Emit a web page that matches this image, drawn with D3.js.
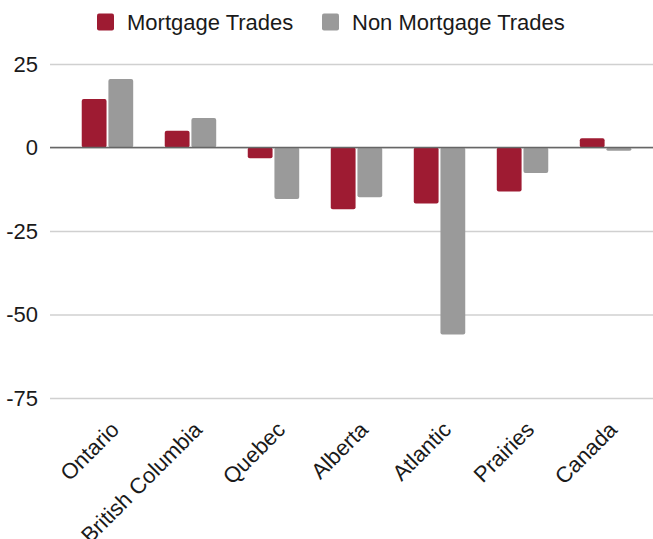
<html>
<head>
<meta charset="utf-8">
<script src="https://d3js.org/d3.v7.min.js"></script>
<style>
  body { margin: 0; background: #fff; }
  text { font-family: "Liberation Sans", Arial, sans-serif; fill: #1a1a1a; }
</style>
</head>
<body>
<div id="graph"></div>
<script>
const regions = ['Ontario', 'British Columbia', 'Quebec', 'Alberta', 'Atlantic', 'Prairies', 'Canada'];
const mortgage = [14.5, 5.0, -3.2, -18.5, -16.8, -13.2, 2.8];
const nonMortgage = [20.5, 8.8, -15.4, -14.9, -56.0, -7.6, -1.0];
const seriesNames = ['Mortgage Trades', 'Non Mortgage Trades'];
const colors = ['#9e1b32', '#9a9a9a'];
const yTicks = [25, 0, -25, -50, -75];

const w = 653, h = 539;
const svg = d3.select('#graph').append('svg').attr('width', w).attr('height', h);

const yScale = d3.scaleLinear().domain([-75, 25]).range([398, 64]);
const x0 = d3.scaleBand().domain(regions).range([56, 657]).paddingInner(0.38).paddingOuter(0.31);
const x1 = d3.scaleBand().domain([0, 1]).range([0, x0.bandwidth()]).paddingInner(0.07);

// grid + y labels
const yAxis = d3.axisLeft(yScale).tickValues(yTicks).tickFormat(d => String(d))
  .tickSize(-(w - 50)).tickPadding(12);
const gy = svg.append('g').attr('transform', 'translate(50,0)').call(yAxis);
gy.select('.domain').remove();
gy.selectAll('.tick line').attr('stroke', '#d0d0d0').attr('stroke-width', 1.3);
gy.selectAll('.tick text').attr('font-size', 22).attr('x', -12).attr('fill', '#1a1a1a');

// bars
const data = regions.map((r, i) => ({ r, v: [mortgage[i], nonMortgage[i]] }));
const groups = svg.selectAll('.grp').data(data).enter().append('g')
  .attr('transform', d => 'translate(' + x0(d.r) + ',0)');
groups.selectAll('rect').data(d => d.v.map((v, k) => ({ v, k }))).enter().append('rect')
  .attr('x', d => x1(d.k))
  .attr('width', x1.bandwidth())
  .attr('y', d => yScale(Math.max(0, d.v)))
  .attr('height', d => Math.abs(yScale(d.v) - yScale(0)))
  .attr('rx', 2)
  .attr('fill', d => colors[d.k]);

// zero line
svg.append('line').attr('x1', 50).attr('x2', w).attr('y1', yScale(0)).attr('y2', yScale(0))
  .attr('stroke', '#666').attr('stroke-width', 1.5);

// x labels
const xAxis = d3.axisBottom(x0).tickSize(0).tickPadding(0);
const gx = svg.append('g').attr('transform', 'translate(0,431)').call(xAxis);
gx.select('.domain').remove();
gx.selectAll('.tick text')
  .attr('font-size', 22).attr('fill', '#1a1a1a')
  .attr('text-anchor', 'end')
  .attr('y', 0).attr('dy', 0)
  .attr('transform', 'translate(13,0) rotate(-45)');

// legend
const legend = svg.append('g').attr('transform', 'translate(0,22)');
const legX = [97, 322];
seriesNames.forEach((s, i) => {
  legend.append('rect').attr('x', legX[i]).attr('y', -8.5).attr('width', 17).attr('height', 17)
    .attr('rx', 2).attr('fill', colors[i]);
  legend.append('text').attr('x', legX[i] + 30).attr('y', 8)
    .attr('font-size', 22).text(s);
});
</script>
</body>
</html>
